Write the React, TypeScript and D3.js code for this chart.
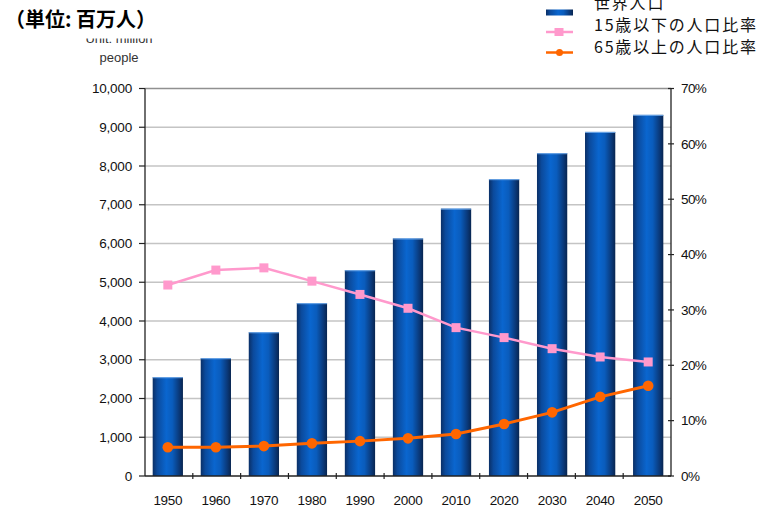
import React from 'react';
import * as d3 from 'd3';

// 世界人口と年齢構成の推移
const years = ['1950', '1960', '1970', '1980', '1990', '2000', '2010', '2020', '2030', '2040', '2050'];
const population = [2550, 3040, 3710, 4460, 5310, 6130, 6900, 7660, 8330, 8880, 9320];
const under15 = [34.5, 37.2, 37.6, 35.2, 32.8, 30.3, 26.8, 25.0, 23.0, 21.5, 20.6];
const over65 = [5.2, 5.2, 5.4, 5.9, 6.3, 6.8, 7.6, 9.4, 11.5, 14.3, 16.3];
const leftTicks = [0, 1000, 2000, 3000, 4000, 5000, 6000, 7000, 8000, 9000, 10000];
const rightTicks = [0, 10, 20, 30, 40, 50, 60, 70];

const W = 773;
const H = 508;
const margin = {top: 88.5, right: 102, bottom: 32, left: 145};

function App() {
    const x = d3.scaleBand()
        .domain(years)
        .range([margin.left, W - margin.right])
        .paddingInner(0.37)
        .paddingOuter(0.16);

    const y = d3.scaleLinear().domain([0, 10000]).range([H - margin.bottom, margin.top]);
    const y2 = d3.scaleLinear().domain([0, 70]).range([H - margin.bottom, margin.top]);

    const cx = (yr) => x(yr) + x.bandwidth() / 2;

    const lineU = d3.line()
        .x((d, i) => cx(years[i]))
        .y((d) => y2(d));

    const x0 = margin.left;
    const x1 = W - margin.right;
    const yb = H - margin.bottom;
    const labelFont = '"Liberation Sans", Arial, sans-serif';
    const jpFont = '"Noto Sans CJK JP", sans-serif';

    // category boundaries for the small bottom ticks
    const step = (x1 - x0) / years.length;
    const bounds = d3.range(1, years.length).map((i) => x0 + i * step);

    return (
        <svg width={W} height={H} style={{position: 'absolute', left: 0, top: 0, background: '#fff'}}>
            <defs>
                <linearGradient id="barGrad" x1="0" x2="1" y1="0" y2="0">
                    <stop offset="0%" stopColor="#0a2f66"/>
                    <stop offset="15%" stopColor="#0b4a9c"/>
                    <stop offset="45%" stopColor="#0a66cf"/>
                    <stop offset="65%" stopColor="#0a5cbc"/>
                    <stop offset="88%" stopColor="#0a3878"/>
                    <stop offset="100%" stopColor="#082550"/>
                </linearGradient>
            </defs>

            {/* gridlines */}
            {leftTicks.filter((t) => t > 0).map((t) => (
                <line key={'g' + t} x1={x0} x2={x1} y1={y(t)} y2={y(t)}
                      stroke={t === 10000 ? '#909090' : '#c4c4c4'} strokeWidth={1.3}/>
            ))}

            {/* bars */}
            {population.map((v, i) => (
                <g key={'b' + i}>
                    <rect x={x(years[i])} y={y(v)} width={x.bandwidth()} height={yb - y(v)}
                          fill="url(#barGrad)"/>
                    <line x1={x(years[i])} x2={x(years[i]) + x.bandwidth()} y1={y(v) + 0.5} y2={y(v) + 0.5}
                          stroke="#6fa8e8" strokeWidth={1}/>
                </g>
            ))}

            {/* axes */}
            <line x1={x0} x2={x0} y1={margin.top} y2={yb} stroke="#222" strokeWidth={1.3}/>
            <line x1={x1} x2={x1} y1={margin.top} y2={yb} stroke="#222" strokeWidth={1.3}/>
            <line x1={x0} x2={x1} y1={yb} y2={yb} stroke="#222" strokeWidth={1.3}/>

            {leftTicks.map((t) => (
                <g key={'l' + t}>
                    <line x1={x0 - 6} x2={x0} y1={y(t)} y2={y(t)} stroke="#222" strokeWidth={1.2}/>
                    <text x={132} y={y(t)} dy="0.35em" textAnchor="end" fontFamily={labelFont}
                          fontSize={13.5} letterSpacing={-0.2} fill="#111">{d3.format(',')(t)}</text>
                </g>
            ))}

            {rightTicks.map((t) => (
                <g key={'r' + t}>
                    <line x1={x1 - 3} x2={x1 + 3} y1={y2(t)} y2={y2(t)} stroke="#222" strokeWidth={1.2}/>
                    <text x={681} y={y2(t)} dy="0.35em" textAnchor="start" fontFamily={labelFont}
                          fontSize={13.5} letterSpacing={-0.6} fill="#111">{t + '%'}</text>
                </g>
            ))}

            {bounds.map((b, i) => (
                <line key={'t' + i} x1={b} x2={b} y1={yb - 3} y2={yb + 3} stroke="#222" strokeWidth={1.2}/>
            ))}

            {years.map((yr) => (
                <text key={'x' + yr} x={cx(yr)} y={500} dy="0.35em" textAnchor="middle" fontFamily={labelFont}
                      fontSize={13.5} letterSpacing={-0.3} fill="#111">{yr}</text>
            ))}

            {/* lines */}
            <path d={lineU(under15)} fill="none" stroke="#ff99cc" strokeWidth={2.5}/>
            {under15.map((v, i) => (
                <rect key={'u' + i} x={cx(years[i]) - 4.5} y={y2(v) - 4.5} width={9} height={9} fill="#ff99cc"/>
            ))}
            <path d={lineU(over65)} fill="none" stroke="#ff6600" strokeWidth={3}/>
            {over65.map((v, i) => (
                <circle key={'o' + i} cx={cx(years[i])} cy={y2(v)} r={5.3} fill="#ff6600"/>
            ))}

            {/* unit label (top half hidden) */}
            <text x={119} y={43} textAnchor="middle" fontFamily={labelFont} fontSize={13} fill="#333">Unit: million</text>
            <rect x={60} y={0} width={120} height={38.5} fill="#fff"/>
            <text x={119} y={62} textAnchor="middle" fontFamily={labelFont} fontSize={13} fill="#333">people</text>

            {/* title */}
            <text x={5} y={27} fontFamily={jpFont} fontWeight="bold" fontSize={20} fill="#000">（単位: 百万人）</text>

            {/* legend */}
            <rect x={546} y={9.5} width={27} height={6} fill="url(#barGrad)"/>
            <line x1={546} x2={573} y1={32} y2={32} stroke="#ff99cc" strokeWidth={2.5}/>
            <rect x={554.5} y={28} width={9} height={8} fill="#ff99cc"/>
            <line x1={546} x2={573} y1={52.5} y2={52.5} stroke="#ff6600" strokeWidth={2.5}/>
            <circle cx={559.5} cy={52.5} r={3.5} fill="#ff6600"/>
            <text x={594} y={9} fontFamily={jpFont} fontSize={16} letterSpacing={1.8} fill="#111">世界人口</text>
            <text x={594} y={31} fontFamily={jpFont} fontSize={16} letterSpacing={1.8} fill="#111">15歳以下の人口比率</text>
            <text x={594} y={53} fontFamily={jpFont} fontSize={16} letterSpacing={1.8} fill="#111">65歳以上の人口比率</text>
        </svg>
    );
}

export default App;
